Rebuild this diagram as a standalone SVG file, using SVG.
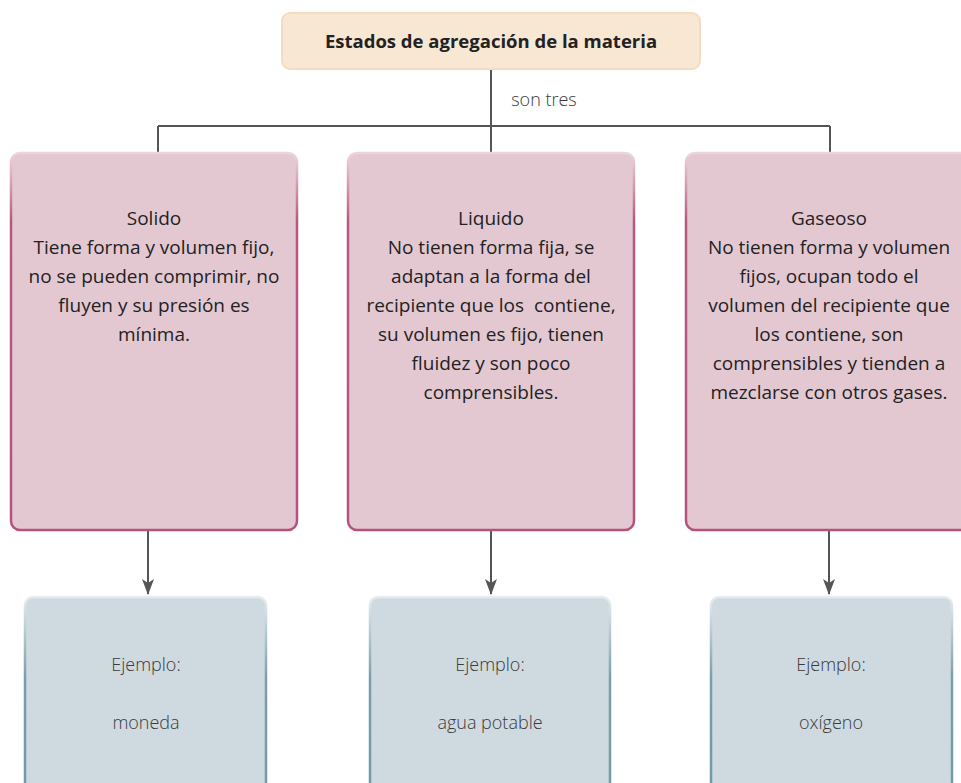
<svg xmlns="http://www.w3.org/2000/svg" width="961" height="783" viewBox="0 0 961 783">
<defs>
<linearGradient id="pinkStroke" x1="0" y1="0" x2="0" y2="1">
<stop offset="0" stop-color="#ecd6de"/>
<stop offset="0.18" stop-color="#b8587f"/>
<stop offset="1" stop-color="#b5527c"/>
</linearGradient>
<linearGradient id="blueStroke" x1="0" y1="0" x2="0" y2="1">
<stop offset="0" stop-color="#e6edf0"/>
<stop offset="0.4" stop-color="#7b9ea9"/>
<stop offset="1" stop-color="#7299a5"/>
</linearGradient>
<marker id="arr" viewBox="0 0 16 12" refX="15" refY="6" markerWidth="16" markerHeight="12" markerUnits="userSpaceOnUse" orient="auto">
<path d="M0,0 L16,6 L0,12 L4,6 Z" fill="#555"/>
</marker>
<style>
.pink{fill:#e3c8d2;stroke:url(#pinkStroke);stroke-width:2.5}
.blue{fill:#cfd9e0;stroke:url(#blueStroke);stroke-width:2.5}
.title{fill:#f8e7d3;stroke:#f3dcc3;stroke-width:2}
.t{font-family:"Open Sans","Noto Sans","DejaVu Sans",sans-serif;font-size:19px;fill:#222;text-anchor:middle}
.tb{font-family:"Open Sans","Noto Sans","DejaVu Sans",sans-serif;font-size:18.5px;font-weight:bold;fill:#222;text-anchor:middle}
.tl{font-family:"Open Sans","Noto Sans","DejaVu Sans",sans-serif;font-size:18px;font-weight:300;fill:#3a3a3a;text-anchor:middle}
.ln{stroke:#555;stroke-width:2;fill:none}
</style>
</defs>
<g id="connectors">
<path class="ln" d="M491,69 V153"/>
<path class="ln" d="M158,126 H830"/>
<path class="ln" d="M158,126 V153"/>
<path class="ln" d="M830,126 V153"/>
<text x="544" y="106" class="tl">son tres</text>
<path class="ln" d="M148,526 V594" marker-end="url(#arr)"/>
<path class="ln" d="M491,526 V594" marker-end="url(#arr)"/>
<path class="ln" d="M829,526 V594" marker-end="url(#arr)"/>
</g>
<g id="title">
<rect class="title" x="282" y="13" width="418" height="56" rx="8"/>
<text x="491" y="48" class="tb">Estados de agregación de la materia</text>
</g>
<g id="solido">
<rect class="pink" x="11" y="153" width="286" height="377" rx="9"/>
<text class="t"><tspan x="154" y="225">Solido</tspan><tspan x="154" y="254">Tiene forma y volumen fijo,</tspan><tspan x="154" y="283">no se pueden comprimir, no</tspan><tspan x="154" y="312">fluyen y su presión es</tspan><tspan x="154" y="341">mínima.</tspan></text>
</g>
<g id="liquido">
<rect class="pink" x="348" y="153" width="286" height="377" rx="9"/>
<text class="t"><tspan x="491" y="225">Liquido</tspan><tspan x="491" y="254">No tienen forma fija, se</tspan><tspan x="491" y="283">adaptan a la forma del</tspan><tspan x="491" y="312" style="white-space:pre">recipiente que los  contiene,</tspan><tspan x="491" y="341">su volumen es fijo, tienen</tspan><tspan x="491" y="370">fluidez y son poco</tspan><tspan x="491" y="399">comprensibles.</tspan></text>
</g>
<g id="gaseoso">
<rect class="pink" x="686" y="153" width="290" height="377" rx="9"/>
<text class="t"><tspan x="829" y="225">Gaseoso</tspan><tspan x="829" y="254">No tienen forma y volumen</tspan><tspan x="829" y="283">fijos, ocupan todo el</tspan><tspan x="829" y="312">volumen del recipiente que</tspan><tspan x="829" y="341">los contiene, son</tspan><tspan x="829" y="370">comprensibles y tienden a</tspan><tspan x="829" y="399">mezclarse con otros gases.</tspan></text>
</g>
<g id="ej-solido">
<rect class="blue" x="25" y="597" width="241" height="200" rx="8"/>
<text class="tl"><tspan x="146" y="671">Ejemplo:</tspan><tspan x="146" y="729">moneda</tspan></text>
</g>
<g id="ej-liquido">
<rect class="blue" x="370" y="597" width="240" height="200" rx="8"/>
<text class="tl"><tspan x="490" y="671">Ejemplo:</tspan><tspan x="490" y="729">agua potable</tspan></text>
</g>
<g id="ej-gaseoso">
<rect class="blue" x="711" y="597" width="241" height="200" rx="8"/>
<text class="tl"><tspan x="831" y="671">Ejemplo:</tspan><tspan x="831" y="729">oxígeno</tspan></text>
</g>
</svg>
